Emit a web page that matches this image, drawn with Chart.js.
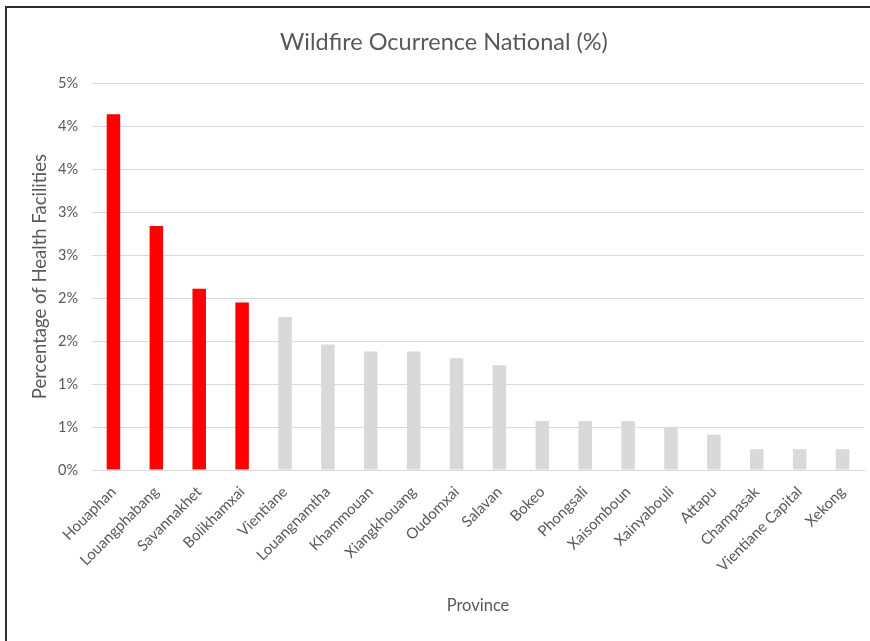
<!DOCTYPE html>
<html>
<head>
<meta charset="utf-8">
<script src="https://cdn.jsdelivr.net/npm/chart.js@4"></script>
<style>
  body { margin: 0; background: #fff; }
  #wrap { position: relative; width: 870px; height: 641px; }
  #frame { position: absolute; left: 5px; top: 6px; right: 0; bottom: 0;
           border-left: 2px solid #2e2e2e; border-top: 2px solid #2e2e2e; pointer-events: none; }
</style>
</head>
<body>
<div id="wrap">
  <canvas id="myChart" width="870" height="641"></canvas>
  <div id="frame"></div>
</div>
<script>
const provinces = ["Houaphan", "Louangphabang", "Savannakhet", "Bolikhamxai", "Vientiane",
  "Louangnamtha", "Khammouan", "Xiangkhouang", "Oudomxai", "Salavan", "Bokeo", "Phongsali",
  "Xaisomboun", "Xainyabouli", "Attapu", "Champasak", "Vientiane Capital", "Xekong"]
const share = [4.14, 2.84, 2.11, 1.95, 1.78, 1.46, 1.38, 1.38, 1.30, 1.22, 0.57, 0.57,
  0.57, 0.49, 0.41, 0.24, 0.24, 0.24]
const highlighted = 4  // first four provinces shown in red

const barColors = share.map((v, i) => i < highlighted ? "#ff0000" : "#d9d9d9")
const textColor = "#595959"
const fontName = "Lato, 'Open Sans', sans-serif"

let chart = document.getElementById("myChart")
new Chart(chart, {
  type: "bar",
  data: {
    labels: provinces,
    datasets: [{
      data: share,
      backgroundColor: barColors,
      borderWidth: 0,
      barPercentage: 0.315,
      categoryPercentage: 1.0
    }]
  },
  options: {
    responsive: false,
    animation: false,
    // left padding also nudges the title to the right, like the original
    layout: { padding: { left: 24, right: 6, top: 0, bottom: 0 } },
    plugins: {
      legend: { display: false },
      tooltip: { enabled: false },
      title: {
        display: true,
        text: "Wildfire Ocurrence National (%)",
        color: textColor,
        font: { family: fontName, size: 23.5, weight: "normal" },
        padding: { top: 28, bottom: 27 }
      }
    },
    scales: {
      x: {
        grid: { display: false },
        border: { color: "#d9d9d9", width: 1 },
        ticks: {
          color: textColor,
          font: { family: fontName, size: 15 },
          minRotation: 45,
          maxRotation: 45,
          autoSkip: false,
          padding: 5
        },
        title: {
          display: true,
          text: "Province",
          color: textColor,
          font: { family: fontName, size: 16.5 },
          padding: { top: 0, bottom: 25 }
        },
        afterFit: (scale) => { scale.height = 171 }
      },
      y: {
        min: 0,
        max: 4.5,
        grid: { color: "#d9d9d9", lineWidth: 1, drawTicks: false },
        border: { display: false },
        ticks: {
          stepSize: 0.5,
          color: textColor,
          font: { family: fontName, size: 14.5 },
          padding: 14,
          callback: (v) => Math.round(v + 1e-9) + "%"
        },
        title: {
          display: true,
          text: "Percentage of Health Facilities",
          color: textColor,
          font: { family: fontName, size: 18.5 },
          padding: { top: 5, bottom: 0 }
        },
        afterFit: (scale) => { scale.width = 68 }
      }
    }
  }
});
</script>
</body>
</html>
